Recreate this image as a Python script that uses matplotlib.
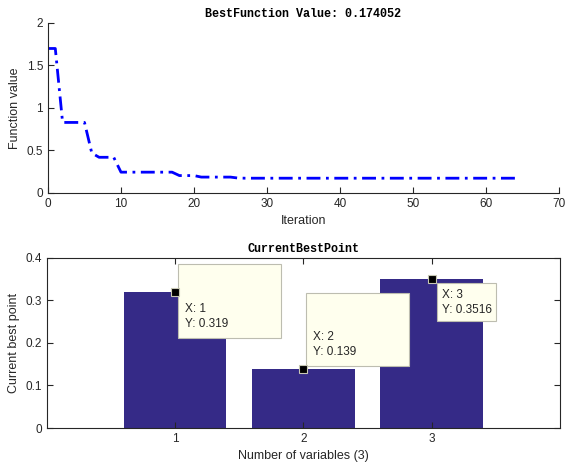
import matplotlib
matplotlib.use("Agg")
import matplotlib.pyplot as plt
import matplotlib.transforms as mtransforms
from matplotlib.patches import Rectangle

# best function value per iteration
iterations = list(range(0, 65))
best_values = [1.70, 1.70, 0.83, 0.83, 0.83, 0.83, 0.47, 0.42, 0.42, 0.42,
               0.245, 0.245, 0.245, 0.245, 0.245, 0.245, 0.245, 0.245, 0.205, 0.205,
               0.205, 0.187, 0.187, 0.187, 0.187, 0.187, 0.176] + [0.174] * 38

# current best point
variables = [1, 2, 3]
best_point = [0.319, 0.139, 0.3516]
tip_labels = ["0.319", "0.139", "0.3516"]

title_top = "BestFunction Value: 0.174052"
title_bottom = "CurrentBestPoint"

gray = "#262626"
bar_color = "#352A87"


def main():
    plt.rcParams["font.family"] = ["Liberation Sans", "DejaVu Sans"]
    plt.rcParams["font.size"] = 8
    fig = plt.figure(figsize=(5.66, 4.69), dpi=100)

    # top: best function value
    ax1 = fig.add_axes([0.0848, 0.5885, 0.9028, 0.3625])
    ax1.plot(iterations, best_values, color="blue", linestyle=(0, (5, 2, 1, 2)),
             linewidth=2)
    ax1.set_xlim(0, 70)
    ax1.set_ylim(0, 2)
    ax1.set_xticks(range(0, 71, 10))
    ax1.set_yticks([0, 0.5, 1, 1.5, 2])
    ax1.set_yticklabels(["0", "0.5", "1", "1.5", "2"])
    ax1.set_xlabel("Iteration", color=gray, fontsize=9, labelpad=4)
    ax1.set_ylabel("Function value", color=gray, fontsize=9, labelpad=4)
    ax1.set_title(title_top, fontsize=8.5, fontweight="bold",
                  family=["Liberation Mono", "DejaVu Sans Mono"], pad=4)
    ax1.spines["top"].set_visible(False)
    ax1.spines["right"].set_visible(False)
    for s in ("left", "bottom"):
        ax1.spines[s].set_color(gray)
        ax1.spines[s].set_linewidth(0.8)
    ax1.tick_params(direction="in", length=4, colors=gray, labelsize=8.5, width=0.8)

    # bottom: current best point
    ax2 = fig.add_axes([0.083, 0.0874, 0.906, 0.3626])
    ax2.bar(variables, best_point, width=0.8, color=bar_color)
    ax2.set_xlim(0, 4)
    ax2.set_ylim(0, 0.4)
    ax2.set_xticks(variables)
    ax2.set_yticks([0, 0.1, 0.2, 0.3, 0.4])
    ax2.set_yticklabels(["0", "0.1", "0.2", "0.3", "0.4"])
    ax2.set_xlabel("Number of variables (3)", color=gray, fontsize=9, labelpad=4)
    ax2.set_ylabel("Current best point", color=gray, fontsize=9, labelpad=4)
    ax2.set_title(title_bottom, fontsize=8.5, fontweight="bold",
                  family=["Liberation Mono", "DejaVu Sans Mono"], pad=4)
    for s in ax2.spines.values():
        s.set_color(gray)
        s.set_linewidth(0.8)
    ax2.tick_params(direction="in", length=4, colors=gray, labelsize=8.5, width=0.8,
                    top=True, right=True)

    # data tips: box (left, right, top, bottom) and text (x, y) offsets in pixels
    boxes = [(3, 106, 28, -46), (3, 106, 76, 3), (5, 64, -4, -42)]
    texts = [(10, -17), (10, 32), (10, -16)]
    for i in range(len(variables)):
        trans = mtransforms.Affine2D() + mtransforms.ScaledTranslation(
            variables[i], best_point[i], ax2.transData)
        l, r, t, b = boxes[i]
        ax2.add_patch(Rectangle((l, b), r - l, t - b, transform=trans,
                                facecolor="#FFFFEE", edgecolor="#BDBDB0",
                                linewidth=0.8, clip_on=False, zorder=5))
        tx, ty = texts[i]
        ax2.text(tx, ty, "X: %d" % variables[i], transform=trans, fontsize=8.5,
                 color=gray, va="center", ha="left", zorder=6)
        ax2.text(tx, ty - 15, "Y: " + tip_labels[i], transform=trans, fontsize=8.5,
                 color=gray, va="center", ha="left", zorder=6)
        ax2.plot(variables[i], best_point[i], marker="s", markersize=6,
                 color="black", markeredgecolor="#C8C8B4", markeredgewidth=0.8,
                 zorder=7, clip_on=False)

    fig.savefig("out.png", dpi=100)


if __name__ == "__main__":
    main()
